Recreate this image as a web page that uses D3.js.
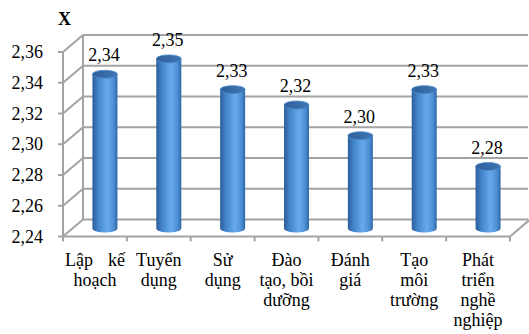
<!DOCTYPE html>
<html>
<head>
<meta charset="utf-8">
<script src="https://cdn.jsdelivr.net/npm/d3@7"></script>
<style>
body { margin: 0; background: #fff; }
</style>
</head>
<body>
<div id="chart"></div>
<script>
var categories = [["Lập kế", "hoạch"], ["Tuyển", "dụng"], ["Sử", "dụng"], ["Đào", "tạo, bồi", "dưỡng"], ["Đánh", "giá"], ["Tạo", "môi", "trường"], ["Phát", "triển", "nghề", "nghiệp"]];
var values = [2.34, 2.35, 2.33, 2.32, 2.30, 2.33, 2.28];
var yTicks = [2.24, 2.26, 2.28, 2.30, 2.32, 2.34, 2.36];

var width = 529, height = 334;
var depth = { x: 20, y: -17 };
var serif = "Liberation Serif";

var locale = d3.formatLocale({ decimal: ",", thousands: ".", grouping: [3], currency: ["", ""] });
var fmt = locale.format(".2f");

var svg = d3.select("#chart").append("svg")
    .attr("width", width)
    .attr("height", height);

var defs = svg.append("defs");
var grad = defs.append("linearGradient").attr("id", "body").attr("x1", "0").attr("x2", "1").attr("y1", "0").attr("y2", "0");
grad.append("stop").attr("offset", "0%").attr("stop-color", "#2c5e9a");
grad.append("stop").attr("offset", "25%").attr("stop-color", "#4587cf");
grad.append("stop").attr("offset", "60%").attr("stop-color", "#67a9ea");
grad.append("stop").attr("offset", "85%").attr("stop-color", "#4c8fd6");
grad.append("stop").attr("offset", "100%").attr("stop-color", "#2f66a6");
var gradTop = defs.append("linearGradient").attr("id", "top").attr("x1", "0").attr("x2", "1").attr("y1", "0").attr("y2", "0");
gradTop.append("stop").attr("offset", "0%").attr("stop-color", "#2f5f99");
gradTop.append("stop").attr("offset", "100%").attr("stop-color", "#3f76b4");

var x = d3.scaleBand()
    .domain(d3.range(categories.length))
    .range([63, 510])
    .paddingInner(0)
    .paddingOuter(0);

var y = d3.scaleLinear()
    .domain([2.24, 2.36])
    .range([236.5, 52]);

var x0 = x.range()[0], x1 = x.range()[1];
var grid = svg.append("g").attr("stroke", "#a3a3a3").attr("stroke-width", 2).attr("fill", "none");

// back wall gridlines and side wall diagonals
yTicks.forEach(function(t) {
    var yy = y(t);
    grid.append("line")
        .attr("x1", x0 + depth.x).attr("y1", yy + depth.y)
        .attr("x2", x1 + depth.x - 2).attr("y2", yy + depth.y);
    grid.append("line")
        .attr("x1", x0).attr("y1", yy)
        .attr("x2", x0 + depth.x).attr("y2", yy + depth.y);
});
// back-left vertical edge
grid.append("line")
    .attr("x1", x0 + depth.x).attr("y1", y(2.36) + depth.y)
    .attr("x2", x0 + depth.x).attr("y2", y(2.24) + depth.y);
// floor
grid.append("line")
    .attr("x1", x0).attr("y1", y(2.24))
    .attr("x2", x1).attr("y2", y(2.24));
grid.append("line")
    .attr("x1", x1).attr("y1", y(2.24))
    .attr("x2", x1 + depth.x).attr("y2", y(2.24) + depth.y);
// front axis
grid.append("line")
    .attr("x1", x0).attr("y1", y(2.36))
    .attr("x2", x0).attr("y2", y(2.24));
// y ticks
yTicks.forEach(function(t) {
    grid.append("line")
        .attr("x1", x0 - 5).attr("y1", y(t))
        .attr("x2", x0).attr("y2", y(t));
});
// category ticks
d3.range(categories.length + 1).forEach(function(i) {
    var xx = i < categories.length ? x(i) : x1;
    grid.append("line")
        .attr("x1", xx).attr("y1", y(2.24))
        .attr("x2", xx).attr("y2", y(2.24) + 5);
});

// y tick labels
svg.append("g").selectAll("text")
    .data(yTicks)
    .enter().append("text")
    .attr("x", 43)
    .attr("y", function(d) { return y(d) + 6; })
    .attr("text-anchor", "end")
    .attr("font-family", serif)
    .attr("font-size", 18)
    .text(function(d) { return fmt(d); });

// bars (cylinders)
var rx = 12.5, ry = 4;
var bars = svg.append("g").selectAll("g")
    .data(values)
    .enter().append("g");

bars.append("path")
    .attr("fill", "url(#body)")
    .attr("d", function(d, i) {
        var cx = x(i) + x.bandwidth() / 2 + depth.x / 2;
        var yt = y(d) + depth.y / 2;
        var yb = y(2.24) + depth.y / 2 + 0.5;
        return "M" + (cx - rx) + "," + yt +
            "L" + (cx - rx) + "," + yb +
            "A" + rx + "," + ry + " 0 0 0 " + (cx + rx) + "," + yb +
            "L" + (cx + rx) + "," + yt + "Z";
    });

bars.append("ellipse")
    .attr("cx", function(d, i) { return x(i) + x.bandwidth() / 2 + depth.x / 2; })
    .attr("cy", function(d) { return y(d) + depth.y / 2; })
    .attr("rx", rx)
    .attr("ry", ry)
    .attr("fill", "url(#top)")
    .attr("stroke", "#4f8bcb")
    .attr("stroke-width", 0.8);

bars.append("text")
    .attr("x", function(d, i) { return x(i) + x.bandwidth() / 2 + depth.x / 2 - 1; })
    .attr("y", function(d) { return y(d) + depth.y / 2 - 13; })
    .attr("text-anchor", "middle")
    .attr("font-family", serif)
    .attr("font-size", 18)
    .text(function(d) { return fmt(d); });

// category labels
var cats = svg.append("g").selectAll("g")
    .data(categories)
    .enter().append("g")
    .attr("font-family", serif)
    .attr("font-size", 18);

cats.each(function(lines, i) {
    var g = d3.select(this);
    var cx = x(i) + x.bandwidth() / 2;
    lines.forEach(function(line, j) {
        var ly = 266 + j * 20;
        if (i === 0 && j === 0) {
            // justified first line
            var words = line.split(" ");
            g.append("text").attr("x", cx - 30).attr("y", ly).attr("text-anchor", "start").text(words[0]);
            g.append("text").attr("x", cx + 30).attr("y", ly).attr("text-anchor", "end").text(words[1]);
        } else {
            g.append("text").attr("x", cx).attr("y", ly).attr("text-anchor", "middle").text(line);
        }
    });
});

// axis title
svg.append("text")
    .attr("x", 58)
    .attr("y", 25)
    .attr("font-family", serif)
    .attr("font-size", 18)
    .attr("font-weight", "bold")
    .text("X");
</script>
</body>
</html>
